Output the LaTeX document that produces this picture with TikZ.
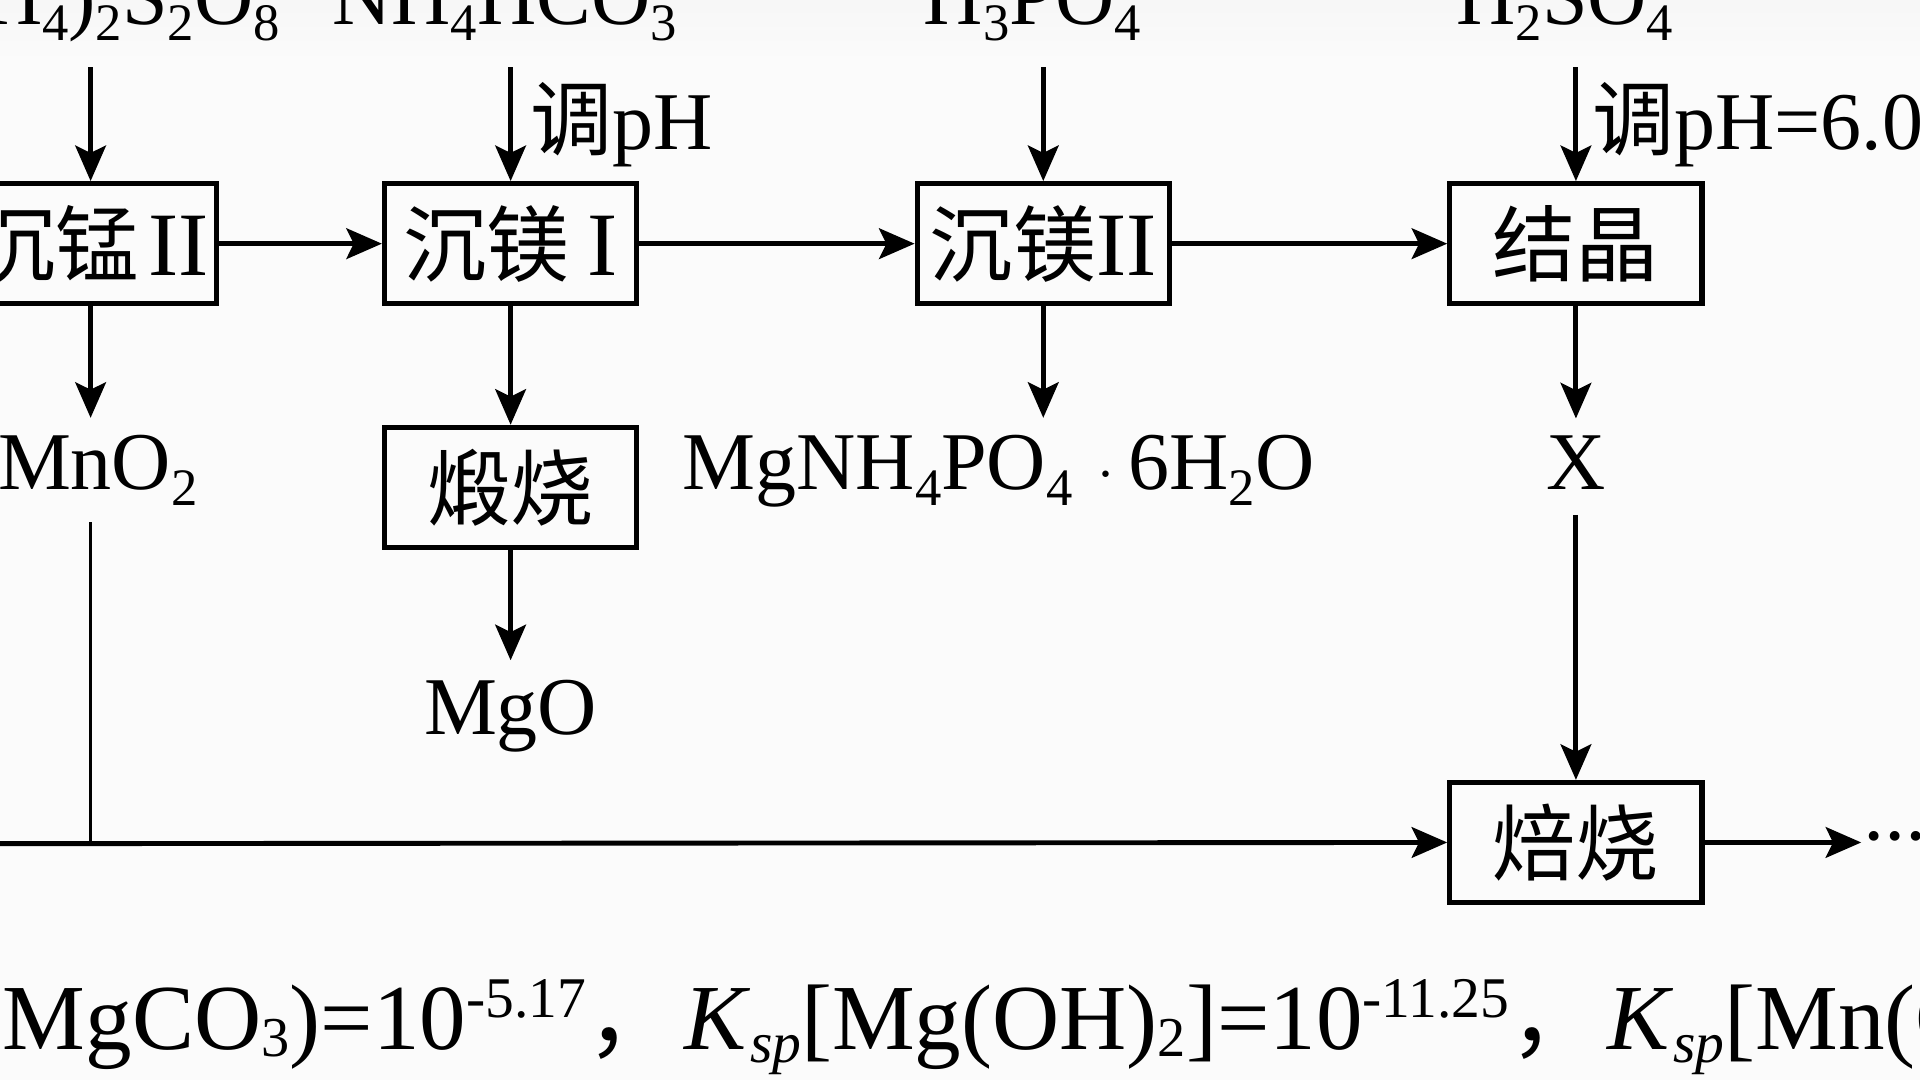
\documentclass[tikz,border=0pt]{standalone}
\usepackage{fontspec}
\setmainfont{Liberation Serif}
\newfontfamily\cjk{Noto Sans CJK SC}
\usetikzlibrary{arrows.meta}
\definecolor{bgA}{gray}{0.86}
\definecolor{bgB}{gray}{0.89}
\definecolor{bgC}{gray}{0.79}
\definecolor{bgW}{gray}{0.985}
\pgfdeclareverticalshading{bgshade}{100bp}{color(0bp)=(bgA); color(15bp)=(bgW); color(72bp)=(bgW); color(88bp)=(bgB); color(100bp)=(bgC)}
\newcommand\Sb[1]{\raisebox{-6.5pt}{\fontsize{21.5}{21}\selectfont #1}}
\newcommand\Sbb[1]{\raisebox{-3pt}{\fontsize{23}{22}\selectfont #1}}
\newcommand\Sbi[1]{\raisebox{-5.5pt}{\fontsize{23.5}{22}\selectfont\itshape #1}}
\newcommand\Sp[1]{\raisebox{13pt}{\fontsize{23.5}{22}\selectfont #1}}
\newcommand\rn[1]{{\fontsize{37}{40}\selectfont #1}}
\newcommand\dt{\makebox[8.5pt]{\textperiodcentered}}
\begin{document}
\begin{tikzpicture}[x=0.5pt,y=-0.5pt,
  stepbox/.style={draw, line width=2.1pt, minimum width=103pt, minimum height=49pt, inner sep=0pt, font=\fontsize{34}{40}\selectfont},
  lbl/.style={inner sep=0pt, font=\fontsize{33.5}{40}\selectfont},
  arr/.style={line width=2pt, -{Stealth[length=14.5pt,width=12.5pt,inset=3pt]}},
  thinln/.style={line width=1.4pt}]
\useasboundingbox (0,0) rectangle (1568,882);
\shade[shading=bgshade] (0,0) rectangle (1568,882);
\clip (0,0) rectangle (1568,882);

% boxes
\node[stepbox] (b1) at (74,199) {{\cjk 沉锰}\hspace{4pt}\rn{II}};
\node[stepbox] (b2) at (417,199) {{\cjk 沉镁}\hspace{7pt}\rn{I}};
\node[stepbox] (b3) at (852,199) {{\cjk 沉镁}\rn{II}};
\node[stepbox] (b4) at (1287,199) {{\cjk 结晶}};
\node[stepbox] (b5) at (417,398) {{\cjk 煅烧}};
\node[stepbox] (b6) at (1287,688) {{\cjk 焙烧}};

% top reagents
\node[lbl, anchor=base] (t1) at (72,20) {(NH\Sb4)\Sb2S\Sb2O\Sb8};
\node[lbl, anchor=base] (t2) at (412,20) {NH\Sb4HCO\Sb3};
\node[lbl, anchor=base] (t3) at (843,20) {H\Sb3PO\Sb4};
\node[lbl, anchor=base] (t4) at (1278,20) {H\Sb2SO\Sb4};
\node[lbl, anchor=base west] (p1) at (433,122) {{\cjk 调}pH};
\node[lbl, anchor=base west] (p2) at (1300,122) {{\cjk 调}pH=6.0};

\coordinate (s1) at (74,55);
\coordinate (s2) at (417,55);
\coordinate (s3) at (852,55);
\coordinate (s4) at (1287,55);
\draw[arr] (s1) -- (s1 |- b1.north);
\draw[arr] (s2) -- (s2 |- b2.north);
\draw[arr] (s3) -- (s3 |- b3.north);
\draw[arr] (s4) -- (s4 |- b4.north);

% horizontal chain
\draw[arr] (b1.east) -- (b2.west);
\draw[arr] (b2.east) -- (b3.west);
\draw[arr] (b3.east) -- (b4.west);

% products
\node[lbl, anchor=base west] (mno) at (-2,400) {MnO\Sb2};
\node[lbl, anchor=base west] (mgp) at (557,400) {MgNH\Sb4PO\Sb4\hspace{10pt}$\cdot$\hspace{6pt}6H\Sb2O};
\node[lbl, anchor=base] (xx) at (1287,400) {X};
\node[lbl, anchor=base] (mgo) at (417,600) {MgO};

\draw[arr, shorten >=7pt] (b1.south) -- (b1.south |- mno.north);
\draw[arr] (b2.south) -- (b5.north);
\draw[arr, shorten >=7pt] (b3.south) -- (b3.south |- mgp.north);
\draw[arr, shorten >=7pt] (b4.south) -- (xx.north);
\draw[arr, shorten >=8pt] (b5.south) -- (mgo.north);

% to roasting
\coordinate (lf) at (-10,689);
\draw[thinln, shorten <=6.5pt] (b1.south |- mno.south) -- (b1.south |- b6.west);
\draw[arr] (lf) -- (b6.west);
\draw[arr, shorten <=10pt] (xx.south) -- (b6.north);
\node[lbl, anchor=base west] (dots) at (1522,705) {\dt\dt\dt};
\draw[arr, shorten >=1pt] (b6.east) -- (b6.east -| dots.west);

% bottom text
\node[inner sep=0pt, anchor=base west, font=\fontsize{38}{40}\selectfont] (ksp) at (2,857)
  {MgCO\Sbb3)=10\Sp{-5.17}{\cjk ，}\hspace{2pt}\textit{K}\Sbi{sp}[Mg(OH)\Sbb2]=10\Sp{-11.25}{\cjk ，}\hspace{2pt}\textit{K}\Sbi{sp}[Mn(O};
\end{tikzpicture}
\end{document}
